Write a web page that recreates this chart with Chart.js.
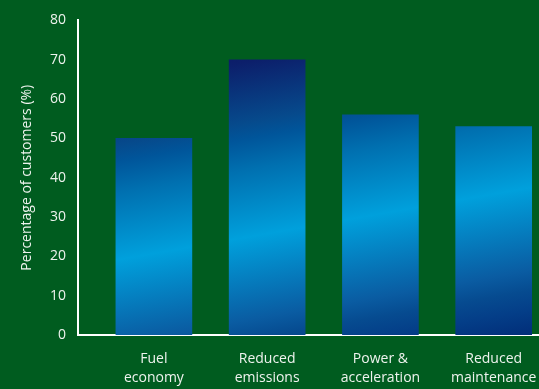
<!DOCTYPE html>
<html lang="en">
<head>
  <meta charset="UTF-8" />
  <title>Percentage of customers by benefit</title>
  <script src="https://cdn.jsdelivr.net/npm/chart.js"></script>
  <style>
    html, body {
      margin: 0;
      padding: 0;
      background: #005c1f;
      overflow: hidden;
    }
    #wrap {
      width: 539px;
      height: 389px;
    }
  </style>
</head>
<body>
  <div id="wrap"><canvas id="benefitChart" width="539" height="389"></canvas></div>

  <script>
    // data
    const categories = ['Fuel economy', 'Reduced emissions', 'Power & acceleration', 'Reduced maintenance'];
    const categoryLines = [['Fuel', 'economy'], ['Reduced', 'emissions'], ['Power &', 'acceleration'], ['Reduced', 'maintenance']];
    const percentages = [50, 70, 56, 53];
    const yTicks = [0, 10, 20, 30, 40, 50, 60, 70, 80];

    const textColor = '#eef3ee';
    const font = { family: "'Open Sans', sans-serif", size: 14 };

    // one gradient over the whole plot, tilted so the light band
    // sits higher (and the bottom gets darker) towards the right
    function barFill(context) {
      const chart = context.chart;
      const area = chart.chartArea;
      if (!area) return '#0080c0';
      const x0 = area.left + 189;
      const len = 360;
      const tilt = 0.175;
      const g = chart.ctx.createLinearGradient(x0, area.top, x0 + tilt * len, area.top + len);
      g.addColorStop(0, '#0a1560');
      g.addColorStop(0.102, '#0c1f6b');
      g.addColorStop(0.265, '#064a8c');
      g.addColorStop(0.309, '#00559a');
      g.addColorStop(0.393, '#0070b0');
      g.addColorStop(0.575, '#00a0dc');
      g.addColorStop(0.798, '#0a5ca2');
      g.addColorStop(0.852, '#064b90');
      g.addColorStop(0.905, '#043e88');
      g.addColorStop(0.959, '#02317c');
      g.addColorStop(1, '#022c74');
      return g;
    }

    new Chart(document.getElementById('benefitChart'), {
      type: 'bar',
      data: {
        datasets: [{
          data: percentages.map((v, i) => ({ x: i + 1, y: v })),
          backgroundColor: barFill,
          borderWidth: 0,
          barThickness: 76
        }]
      },
      options: {
        responsive: false,
        animation: false,
        layout: { padding: { top: 19, right: 0, bottom: 0, left: 0 } },
        plugins: {
          legend: { display: false },
          tooltip: { enabled: false }
        },
        scales: {
          x: {
            type: 'linear',
            offset: false,
            min: 0.33,
            max: 4.4,
            afterBuildTicks: (scale) => {
              scale.ticks = categories.map((c, i) => ({ value: i + 1 }));
            },
            afterFit: (scale) => {
              scale.height = 54;
              scale.paddingLeft = 0;
              scale.paddingRight = 0;
            },
            grid: { display: false, drawTicks: false, offset: false },
            border: { display: true, color: '#ffffff', width: 2 },
            ticks: {
              color: textColor,
              font: { ...font, lineHeight: 1.4 },
              padding: 14,
              autoSkip: false,
              maxRotation: 0,
              callback: (v) => categoryLines[v - 1]
            }
          },
          y: {
            min: 0,
            max: 80,
            afterBuildTicks: (scale) => {
              scale.ticks = yTicks.map(v => ({ value: v }));
            },
            afterFit: (scale) => { scale.width = 78; },
            grid: { display: false, drawTicks: false },
            border: { display: true, color: '#ffffff', width: 2 },
            ticks: {
              color: textColor,
              font: font,
              padding: 12
            },
            title: {
              display: true,
              text: 'Percentage of customers (%)',
              color: textColor,
              font: font,
              padding: { top: 19, bottom: 0 }
            }
          }
        }
      }
    });
  </script>
</body>
</html>
